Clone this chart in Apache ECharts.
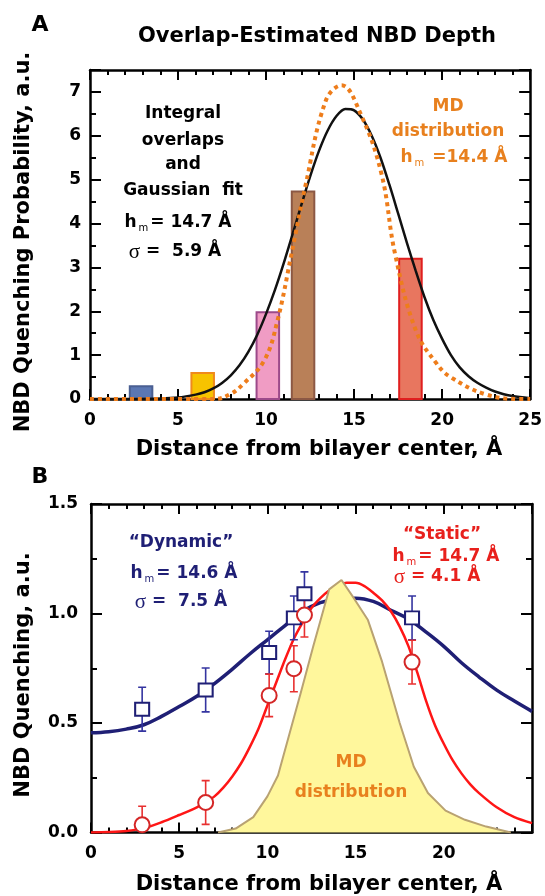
<!DOCTYPE html>
<html>
<head>
<meta charset="utf-8">
<title>Overlap-Estimated NBD Depth</title>
<script src="https://cdn.jsdelivr.net/npm/echarts@6/dist/echarts.min.js"></script>
<style>
  html, body { margin: 0; padding: 0; background: #fff; }
  #chart { width: 545px; height: 896px; }
</style>
</head>
<body>
<div id="chart"></div>
<script>
// ---- panel A: integral overlaps (bars), gaussian fit, MD distribution
const barX = [2.9, 6.4, 10.1, 12.1, 18.2]
const barY = [0.29, 0.59, 1.98, 4.73, 3.2]
const barFill = ['#5b77b3', '#f7c300', '#f09cc4', '#b98058', '#e8765f']
const barEdge = ['#4a5f92', '#ef8a1c', '#9c4a8a', '#8c5844', '#e01f1f']

const fitAX = [0, 2, 4, 5, 6, 6.5, 7, 7.5, 8, 8.5, 9, 9.5, 10, 10.5, 11, 11.5, 12, 12.5, 13, 13.5, 14, 14.5, 15, 15.5, 16, 16.5, 17, 17.5, 18, 18.5, 19, 19.5, 20, 20.5, 21, 21.5, 22, 22.5, 23, 23.5, 24, 25]
const fitAY = [0, 0.001, 0.011, 0.034, 0.1, 0.154, 0.24, 0.366, 0.54, 0.774, 1.08, 1.466, 1.94, 2.48, 3.09, 3.75, 4.42, 5.07, 5.65, 6.12, 6.45, 6.61, 6.58, 6.37, 6.0, 5.5, 4.89, 4.23, 3.56, 2.92, 2.32, 1.8, 1.37, 1.0, 0.72, 0.52, 0.37, 0.26, 0.17, 0.11, 0.07, 0.02]

const mdAX = [0, 7.1, 8.0, 8.7, 9.9, 10.65, 11.44, 12.22, 13.4, 14.29, 15.37, 16.55, 17.33, 18.51, 19.7, 20.48, 22.44, 24.4, 25]
const mdAY = [0, 0, 0.12, 0.34, 0.88, 1.79, 3.3, 4.83, 6.81, 7.15, 6.5, 5.14, 3.3, 1.56, 0.8, 0.5, 0.11, 0, 0]

// ---- panel B: dynamic / static quenching
const depthX = [2.9, 6.5, 10.1, 11.5, 12.1, 18.2]
const dynY = [0.563, 0.651, 0.822, 0.98, 1.09, 0.98]
const dynErr = [0.1, 0.1, 0.097, 0.1, 0.1, 0.1]
const statY = [0.035, 0.137, 0.626, 0.748, 0.993, 0.778]
const statErr = [0.085, 0.1, 0.097, 0.105, 0.1, 0.1]

const dynFitX = [0, 1, 2, 3, 4, 5, 6, 7, 8, 9, 10, 11, 12, 13, 14, 15, 16, 17, 18, 19, 20, 21, 22, 23, 24, 25]
const dynFitY = [0.455, 0.46, 0.472, 0.492, 0.53, 0.575, 0.622, 0.68, 0.745, 0.815, 0.88, 0.945, 1.01, 1.05, 1.065, 1.07, 1.055, 1.015, 0.975, 0.915, 0.85, 0.775, 0.71, 0.65, 0.6, 0.553]

const statFitX = [0, 1, 2, 3, 4, 5, 6, 6.5, 7, 7.5, 8, 8.5, 9, 9.5, 10, 10.5, 11, 11.5, 12, 12.5, 13, 13.5, 14, 14.5, 15, 15.5, 16, 16.5, 17, 17.5, 18, 18.5, 19, 19.5, 20, 20.5, 21, 21.5, 22, 23, 24, 25]
const statFitY = [0, 0.002, 0.007, 0.02, 0.047, 0.08, 0.115, 0.138, 0.165, 0.205, 0.255, 0.315, 0.39, 0.475, 0.58, 0.685, 0.79, 0.885, 0.96, 1.025, 1.07, 1.105, 1.128, 1.14, 1.14, 1.125, 1.095, 1.06, 1.01, 0.94, 0.85, 0.73, 0.6, 0.49, 0.405, 0.33, 0.27, 0.22, 0.18, 0.115, 0.07, 0.043]

const mdBX = [7.2, 8.2, 9.2, 10.0, 10.6, 11.9, 12.6, 13.5, 14.2, 14.9, 15.7, 16.5, 17.5, 18.3, 19.1, 20.1, 21.2, 22.4, 23.8]
const mdBY = [0, 0.018, 0.07, 0.165, 0.26, 0.64, 0.85, 1.11, 1.153, 1.07, 0.97, 0.78, 0.5, 0.3, 0.18, 0.1, 0.058, 0.027, 0]

const xTicks = [0, 5, 10, 15, 20, 25]

const FONT = 'DejaVu Sans'
const NAVY = '#1f1f75'
const RED = '#e8201c'
const ORANGE = '#e8801e'
const BAR_W = 1.28

const pairs = (xs, ys) => xs.map((x, i) => [x, ys[i]])

function xAxisPair(grid, showMax) {
	const base = {
		gridIndex: grid, type: 'value', min: 0, max: 25, interval: 5,
		axisLine: { onZero: false, lineStyle: { color: '#000', width: 2.5 } },
		axisTick: { inside: true, length: 10, lineStyle: { color: '#000', width: 2 } },
		minorTick: { show: true, splitNumber: 5, length: 5, lineStyle: { color: '#000', width: 2 } },
		splitLine: { show: false }
	}
	return [
		Object.assign({}, base, {
			position: 'bottom',
			axisLabel: {
				margin: 13, fontFamily: FONT, fontWeight: 'bold', fontSize: 17, color: '#000',
				showMaxLabel: showMax,
				formatter: v => (xTicks.indexOf(v) >= 0 ? String(v) : '')
			}
		}),
		Object.assign({}, base, { position: 'top', axisLabel: { show: false } })
	]
}

function yAxisPair(grid, max, interval, margin, fmt) {
	const base = {
		gridIndex: grid, type: 'value', min: 0, max: max, interval: interval,
		axisLine: { show: true, onZero: false, lineStyle: { color: '#000', width: 2.5 } },
		axisTick: { show: true, inside: true, length: 11, lineStyle: { color: '#000', width: 2 } },
		minorTick: { show: true, splitNumber: 2, length: 6, lineStyle: { color: '#000', width: 2 } },
		splitLine: { show: false }
	}
	return [
		Object.assign({}, base, {
			position: 'left',
			axisLabel: {
				margin: margin, fontFamily: FONT, fontWeight: 'bold', fontSize: 17, color: '#000',
				showMaxLabel: max % interval === 0,
				formatter: fmt
			}
		}),
		Object.assign({}, base, { position: 'right', axisLabel: { show: false } })
	]
}

function label(x, y, text, opts) {
	opts = opts || {}
	return {
		type: 'text', x: x, y: y, rotation: opts.rotation || 0, z: 100,
		style: {
			text: text,
			fill: opts.color || '#000',
			fontFamily: FONT,
			fontWeight: 'bold',
			fontSize: opts.size || 17,
			align: 'center',
			verticalAlign: 'middle',
			rich: opts.rich
		}
	}
}

function richFor(color) {
	return {
		b: { fontFamily: FONT, fontWeight: 'bold', fontSize: 17, fill: color, lineHeight: 20 },
		s: { fontFamily: FONT, fontWeight: 'normal', fontSize: 10, fill: color, verticalAlign: 'bottom', lineHeight: 20, padding: [0, 2, 0, 2] },
		g: { fontFamily: 'Liberation Serif', fontWeight: 'normal', fontSize: 21, fill: color, lineHeight: 20 }
	}
}

function errorBars(ys, errs, color) {
	return {
		type: 'custom', xAxisIndex: 2, yAxisIndex: 2, z: 8, clip: true,
		data: depthX.map((x, i) => [x, ys[i], errs[i]]),
		renderItem: (params, api) => {
			const x = api.value(0), y = api.value(1), e = api.value(2)
			const top = api.coord([x, y + e])
			const bot = api.coord([x, y - e])
			const st = { stroke: color, lineWidth: 1.6 }
			return {
				type: 'group',
				children: [
					{ type: 'line', shape: { x1: top[0], y1: top[1], x2: bot[0], y2: bot[1] }, style: st },
					{ type: 'line', shape: { x1: top[0] - 4, y1: top[1], x2: top[0] + 4, y2: top[1] }, style: st },
					{ type: 'line', shape: { x1: bot[0] - 4, y1: bot[1], x2: bot[0] + 4, y2: bot[1] }, style: st }
				]
			}
		}
	}
}

const chart = echarts.init(document.getElementById('chart'), null, { renderer: 'canvas' })

const option = {
	animation: false,
	backgroundColor: '#fff',
	grid: [
		{ left: 90, top: 70, right: 13, height: 329 },
		{ left: 91, top: 504, right: 13, height: 328.5 }
	],
	xAxis: [].concat(xAxisPair(0, true), xAxisPair(1, false)),
	yAxis: [].concat(
		yAxisPair(0, 7.5, 1, 9, v => String(v)),
		yAxisPair(1, 1.5, 0.5, 13, v => v.toFixed(1))
	),
	series: [
		{
			type: 'custom', xAxisIndex: 0, yAxisIndex: 0, z: 2,
			data: pairs(barX, barY),
			renderItem: (params, api) => {
				const x = api.value(0), y = api.value(1)
				const p0 = api.coord([x - BAR_W / 2, y])
				const p1 = api.coord([x + BAR_W / 2, 0])
				return {
					type: 'rect',
					shape: { x: p0[0], y: p0[1], width: p1[0] - p0[0], height: p1[1] - p0[1] },
					style: { fill: barFill[params.dataIndex], stroke: barEdge[params.dataIndex], lineWidth: 2 }
				}
			}
		},
		{
			type: 'line', xAxisIndex: 0, yAxisIndex: 0, z: 3,
			data: pairs(fitAX, fitAY), smooth: 0.3, showSymbol: false,
			lineStyle: { color: '#111', width: 2.5 }
		},
		{
			type: 'line', xAxisIndex: 0, yAxisIndex: 0, z: 4,
			data: pairs(mdAX, mdAY), smooth: 0.4, showSymbol: false,
			lineStyle: { color: '#ee7d1b', width: 4, type: [4, 4] }
		},
		{
			type: 'line', xAxisIndex: 2, yAxisIndex: 2, z: 3,
			data: pairs(dynFitX, dynFitY), smooth: 0.4, showSymbol: false,
			lineStyle: { color: NAVY, width: 3.5 }
		},
		{
			type: 'line', xAxisIndex: 2, yAxisIndex: 2, z: 3,
			data: pairs(statFitX, statFitY), smooth: 0.3, showSymbol: false,
			lineStyle: { color: '#ff1616', width: 2.5 }
		},
		{
			type: 'line', xAxisIndex: 2, yAxisIndex: 2, z: 5,
			data: pairs(mdBX, mdBY), showSymbol: false,
			lineStyle: { color: '#b9a272', width: 2 },
			areaStyle: { color: '#fff79c', opacity: 1 }
		},
		errorBars(dynY, dynErr, '#3434a0'),
		errorBars(statY, statErr, '#e83030'),
		{
			type: 'scatter', xAxisIndex: 2, yAxisIndex: 2, z: 9,
			data: pairs(depthX, dynY), symbol: 'rect', symbolSize: [14, 13],
			itemStyle: { color: '#fff', borderColor: NAVY, borderWidth: 2, opacity: 1 }
		},
		{
			type: 'scatter', xAxisIndex: 2, yAxisIndex: 2, z: 10,
			data: pairs(depthX, statY), symbol: 'circle', symbolSize: 15,
			itemStyle: { color: '#fff', borderColor: '#d42626', borderWidth: 2, opacity: 1 }
		}
	],
	graphic: [
		label(40, 25, 'A', { size: 22 }),
		label(317, 37, 'Overlap-Estimated NBD Depth', { size: 21 }),
		label(24, 242, 'NBD Quenching Probability, a.u.', { size: 21, rotation: Math.PI / 2 }),
		label(319, 450, 'Distance from bilayer center, Å', { size: 21 }),
		label(183, 114, 'Integral'),
		label(183, 141, 'overlaps'),
		label(183, 165, 'and'),
		label(183, 191, 'Gaussian  fit'),
		label(178, 223, '{b|h}{s|m}{b|= 14.7 Å}', { rich: richFor('#000') }),
		label(175, 252, '{g|σ}{b| =  5.9 Å}', { rich: richFor('#000') }),
		label(448, 107, 'MD', { color: ORANGE }),
		label(448, 132, 'distribution', { color: ORANGE }),
		label(454, 158, '{b|h}{s|m}{b| =14.4 Å}', { rich: richFor(ORANGE) }),

		label(40, 477, 'B', { size: 22 }),
		label(24, 675, 'NBD Quenching, a.u.', { size: 21, rotation: Math.PI / 2 }),
		label(319, 885, 'Distance from bilayer center, Å', { size: 21 }),
		label(181, 543, '“Dynamic”', { color: NAVY }),
		label(184, 574, '{b|h}{s|m}{b|= 14.6 Å}', { rich: richFor(NAVY) }),
		label(181, 602, '{g|σ}{b| =  7.5 Å}', { rich: richFor(NAVY) }),
		label(442, 535, '“Static”', { color: RED }),
		label(446, 557, '{b|h}{s|m}{b|= 14.7 Å}', { rich: richFor(RED) }),
		label(437, 577, '{g|σ}{b| = 4.1 Å}', { rich: richFor(RED) }),
		label(351, 763, 'MD', { color: ORANGE }),
		label(351, 793, 'distribution', { color: ORANGE })
	]
}

chart.setOption(option)
</script>
</body>
</html>
